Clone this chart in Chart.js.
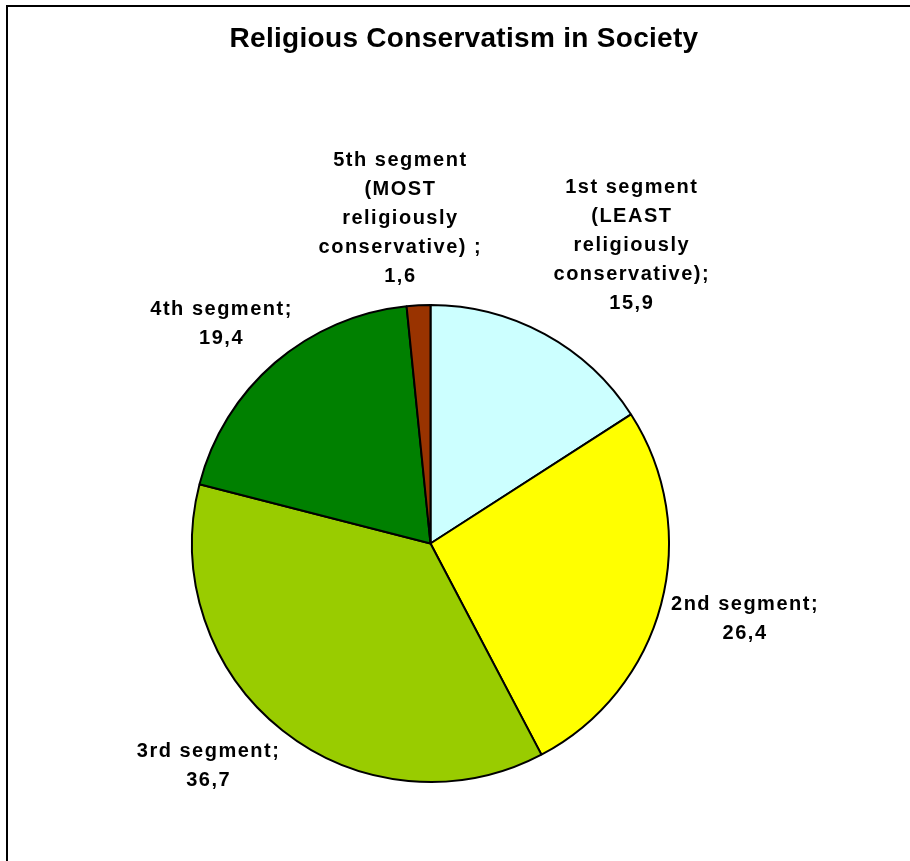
<!DOCTYPE html>
<html>
<head>
<meta charset="utf-8">
<title>Religious Conservatism in Society</title>
<script src="https://cdn.jsdelivr.net/npm/chart.js@4.4.1/dist/chart.umd.min.js"></script>
<style>
  html, body { margin: 0; padding: 0; background: #fff; }
  canvas { display: block; }
</style>
</head>
<body>
<canvas id="pie" width="910" height="861"></canvas>
<script>
// segment names (one entry per line of the callout), shares in %, slice fills
const segments = [
  ['1st segment', '(LEAST', 'religiously', 'conservative);'],
  ['2nd segment;'],
  ['3rd segment;'],
  ['4th segment;'],
  ['5th segment', '(MOST', 'religiously', 'conservative) ;'],
];
const shares = [15.9, 26.4, 36.7, 19.4, 1.6];
const sliceColors = ['#CCFFFF', '#FFFF00', '#99CC00', '#008000', '#993300'];

// hand nudges for the callout text blocks, px
const labelNudge = [[40, -7], [-7, 2], [-17, -3], [6, -1], [-13, 6]];

const LABEL_FONT = 'bold 20px "Liberation Sans", Arial, sans-serif';
const TITLE_FONT = 'bold 28px "Liberation Sans", Arial, sans-serif';

// white page + the black frame running off the right and bottom
const frame = {
  id: 'frame',
  beforeDraw(chart) {
    const ctx = chart.ctx;
    ctx.save();
    ctx.fillStyle = '#fff';
    ctx.fillRect(0, 0, chart.width, chart.height);
    ctx.fillStyle = '#000';
    ctx.fillRect(6, 5, 2, chart.height);
    ctx.fillRect(6, 5, chart.width, 2);
    ctx.font = TITLE_FONT;
    ctx.letterSpacing = '0.3px';
    ctx.textAlign = 'center';
    ctx.textBaseline = 'alphabetic';
    ctx.fillText('Religious Conservatism in Society', 464, 47);
    ctx.restore();
  }
};

// callouts outside each slice: name lines + value with decimal comma
const sliceLabels = {
  id: 'sliceLabels',
  afterDatasetsDraw(chart) {
    const ctx = chart.ctx;
    const meta = chart.getDatasetMeta(0);
    const lh = 29;
    ctx.save();
    ctx.font = LABEL_FONT;
    ctx.letterSpacing = '1.5px';
    ctx.fillStyle = '#000';
    ctx.textAlign = 'center';
    ctx.textBaseline = 'middle';
    meta.data.forEach((arc, i) => {
      const {x, y, startAngle, endAngle, outerRadius} =
        arc.getProps(['x', 'y', 'startAngle', 'endAngle', 'outerRadius'], true);
      const mid = (startAngle + endAngle) / 2;
      const dx = Math.cos(mid), dy = Math.sin(mid);
      const lines = segments[i].concat(shares[i].toFixed(1).replace('.', ','));
      const w = Math.max(...lines.map(l => ctx.measureText(l).width));
      const h = lines.length * lh;
      const r = outerRadius + 20;
      const cx = x + dx * r + dx * w / 2 + labelNudge[i][0];
      const cy = y + dy * r + dy * h / 2 + labelNudge[i][1];
      lines.forEach((line, k) => {
        ctx.fillText(line, cx, cy - h / 2 + lh / 2 + k * lh);
      });
    });
    ctx.restore();
  }
};

new Chart(document.getElementById('pie'), {
  type: 'pie',
  data: {
    labels: segments.map(s => s.join(' ')),
    datasets: [{
      data: shares,
      backgroundColor: sliceColors,
      borderColor: '#000',
      borderWidth: 2
    }]
  },
  options: {
    responsive: false,
    animation: false,
    layout: { padding: { top: 304, bottom: 78, left: 191, right: 240 } },
    plugins: {
      legend: { display: false },
      tooltip: { enabled: false },
      title: { display: false }
    }
  },
  plugins: [frame, sliceLabels]
});
</script>
</body>
</html>
